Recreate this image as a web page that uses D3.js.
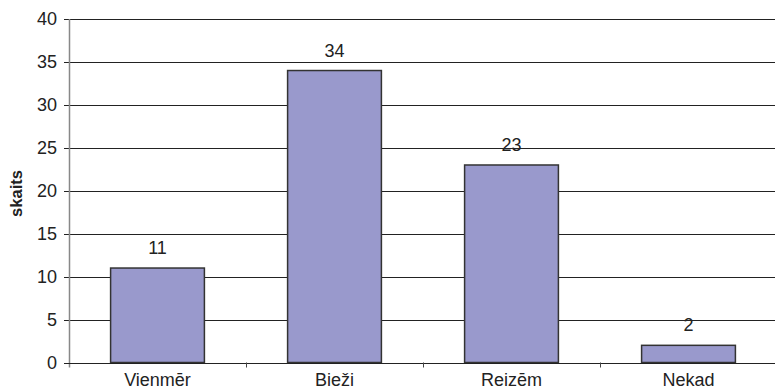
<!DOCTYPE html>
<html>
<head>
<meta charset="utf-8">
<script src="https://cdn.jsdelivr.net/npm/d3@7"></script>
<style>
  html, body { margin: 0; padding: 0; background: #fff; }
  svg { display: block; font-family: "Liberation Sans", Arial, sans-serif; }
</style>
</head>
<body>
<svg id="chart" width="775" height="389"></svg>
<script>
// Atbilžu kategorijas un skaits
const categories = ["Vienmēr", "Bieži", "Reizēm", "Nekad"];
const counts = [11, 34, 23, 2];
const yTicks = [0, 5, 10, 15, 20, 25, 30, 35, 40];
const yLabel = "skaits";

const svg = d3.select("#chart");
const plotLeft = 69, plotRight = 777, plotTop = 19, plotBottom = 362.5;
const fontSize = 18;

const x = d3.scaleBand().domain(categories).range([plotLeft, plotRight]).padding(0);
const y = d3.scaleLinear().domain([0, 40]).range([plotBottom, plotTop]);
const barW = x.bandwidth() * 0.53;

// horizontal gridlines with left tick marks
svg.append("g").selectAll("line").data(yTicks.filter(d => d > 0)).join("line")
  .attr("x1", plotLeft - 5).attr("x2", 775)
  .attr("y1", d => Math.round(y(d)) + 0.5).attr("y2", d => Math.round(y(d)) + 0.5)
  .attr("stroke", "#222").attr("stroke-width", 1);

// tick labels
svg.append("g").selectAll("text").data(yTicks).join("text")
  .attr("x", plotLeft - 12).attr("y", d => y(d)).attr("dy", "0.35em")
  .attr("text-anchor", "end").attr("font-size", fontSize).attr("fill", "#222")
  .text(d => d);

// bars
svg.append("g").selectAll("rect").data(counts).join("rect")
  .attr("x", (d, i) => x(categories[i]) + (x.bandwidth() - barW) / 2)
  .attr("y", d => y(d))
  .attr("width", barW)
  .attr("height", d => y(0) - y(d))
  .attr("fill", "#9999cc").attr("stroke", "#333").attr("stroke-width", 1.5);

// value labels
svg.append("g").selectAll("text").data(counts).join("text")
  .attr("x", (d, i) => x(categories[i]) + x.bandwidth() / 2)
  .attr("y", d => y(d) - 14)
  .attr("text-anchor", "middle").attr("font-size", fontSize).attr("fill", "#222")
  .text(d => d);

// y axis line
svg.append("line")
  .attr("x1", plotLeft + 0.5).attr("x2", plotLeft + 0.5).attr("y1", plotTop).attr("y2", plotBottom + 5)
  .attr("stroke", "#888").attr("stroke-width", 1.5);

// x axis baseline and category ticks
svg.append("line")
  .attr("x1", plotLeft - 5).attr("x2", 775).attr("y1", Math.round(y(0)) + 0.5).attr("y2", Math.round(y(0)) + 0.5)
  .attr("stroke", "#222").attr("stroke-width", 1);
svg.append("g").selectAll("line").data(categories.slice(1)).join("line")
  .attr("x1", d => Math.round(x(d)) + 0.5).attr("x2", d => Math.round(x(d)) + 0.5)
  .attr("y1", plotBottom).attr("y2", plotBottom + 5)
  .attr("stroke", "#444").attr("stroke-width", 1);

// category labels
svg.append("g").selectAll("text").data(categories).join("text")
  .attr("x", d => x(d) + x.bandwidth() / 2).attr("y", 386)
  .attr("text-anchor", "middle").attr("font-size", fontSize).attr("fill", "#222")
  .text(d => d);

// y axis title
svg.append("text")
  .attr("transform", `translate(22, 193.5) rotate(-90)`)
  .attr("text-anchor", "middle").attr("font-size", 16.5).attr("font-weight", "bold").attr("fill", "#222")
  .text(yLabel);
</script>
</body>
</html>
